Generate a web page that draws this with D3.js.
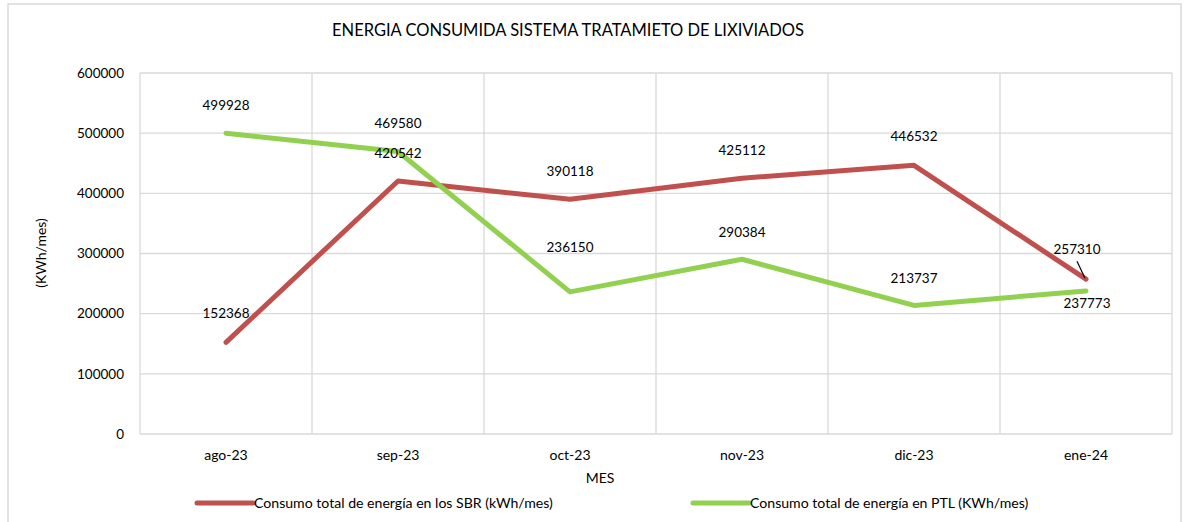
<!DOCTYPE html>
<html lang="es">
<head>
<meta charset="UTF-8">
<title>Energía consumida sistema tratamiento de lixiviados</title>
<script src="https://d3js.org/d3.v7.min.js"></script>
<style>
  body { margin: 0; background: #fff; }
  svg { font-family: Lato, "Open Sans", sans-serif; }
  text { fill: #000; }
  .grid line { stroke: #d9d9d9; stroke-width: 1.3px; }
  .tick-lbl { font-size: 13.5px; }
  .cat-lbl { font-size: 14px; }
  .leg-lbl { font-size: 14.1px; }
  .val-lbl { font-size: 13.5px; text-anchor: middle; }
</style>
</head>
<body>
<svg width="1187" height="522"></svg>
<script>
// data
const months = ["ago-23", "sep-23", "oct-23", "nov-23", "dic-23", "ene-24"];
const sbr = [152368, 420542, 390118, 425112, 446532, 257310];
const ptl = [499928, 469580, 236150, 290384, 213737, 237773];
const yTicks = [0, 100000, 200000, 300000, 400000, 500000, 600000];
const seriesNames = [
  "Consumo total de energía en los SBR (kWh/mes)",
  "Consumo total de energía en PTL (KWh/mes)"
];

const svg = d3.select("svg");
const plot = { left: 140, right: 1172, top: 73, bottom: 434 };

const x = d3.scaleBand().domain(months).range([plot.left, plot.right]);
const y = d3.scaleLinear().domain([0, 600000]).range([plot.bottom, plot.top]);

// outer chart frame
svg.append("rect")
  .attr("x", 8).attr("y", 4).attr("width", 1173).attr("height", 530)
  .attr("fill", "none").attr("stroke", "#d9d9d9").attr("stroke-width", 1.5);

// gridlines
const grid = svg.append("g").attr("class", "grid");
grid.selectAll(".h").data(yTicks).join("line")
  .attr("x1", plot.left).attr("x2", plot.right)
  .attr("y1", d => y(d)).attr("y2", d => y(d));
const bounds = months.map(m => x(m)).concat([plot.right]);
grid.selectAll(".v").data(bounds).join("line")
  .attr("x1", d => d).attr("x2", d => d)
  .attr("y1", plot.top).attr("y2", plot.bottom);

// y tick labels
svg.selectAll(".ylbl").data(yTicks).join("text")
  .attr("class", "tick-lbl")
  .attr("x", 124).attr("y", d => y(d)).attr("dy", "0.35em")
  .attr("text-anchor", "end").text(d => d);

// x tick labels
svg.selectAll(".xlbl").data(months).join("text")
  .attr("class", "cat-lbl")
  .attr("x", d => x(d) + x.bandwidth() / 2).attr("y", 455).attr("dy", "0.35em")
  .attr("text-anchor", "middle").text(d => d);

// axis titles
svg.append("text").attr("class", "cat-lbl")
  .attr("transform", "translate(41,253) rotate(-90)")
  .attr("text-anchor", "middle").attr("dy", "0.35em").text("(KWh/mes)");
svg.append("text").attr("class", "cat-lbl")
  .attr("x", 600).attr("y", 478).attr("dy", "0.35em")
  .attr("text-anchor", "middle").text("MES");

// chart title
svg.append("text")
  .attr("x", 568).attr("y", 30).attr("dy", "0.35em")
  .attr("text-anchor", "middle").style("font-size", "16.5px")
  .text("ENERGIA CONSUMIDA SISTEMA TRATAMIETO DE LIXIVIADOS");

// lines
const colors = ["#c0504d", "#92d050"];
const line = d3.line()
  .x((d, i) => x(months[i]) + x.bandwidth() / 2)
  .y(d => y(d));

[sbr, ptl].forEach((s, k) => {
  svg.append("path").datum(s)
    .attr("d", line)
    .attr("fill", "none")
    .attr("stroke", colors[k])
    .attr("stroke-width", 5)
    .attr("stroke-linecap", "round")
    .attr("stroke-linejoin", "round");
});

// value labels (dx, dy offsets from the point)
const labelOffsets = [
  [[0, -29], [0, -28], [0, -28], [0, -28], [0, -29], [-9, -30]],
  [[0, -28], [0, -28], [0, -45], [0, -27], [0, -27], [1, 12]]
];
[sbr, ptl].forEach((s, k) => {
  svg.selectAll(".v" + k).data(s).join("text")
    .attr("class", "val-lbl")
    .attr("x", (d, i) => x(months[i]) + x.bandwidth() / 2 + labelOffsets[k][i][0])
    .attr("y", (d, i) => y(d) + labelOffsets[k][i][1])
    .attr("dy", "0.35em")
    .text(d => d);
});

// leader line for the last SBR label
const lastX = x(months[5]) + x.bandwidth() / 2;
svg.append("line")
  .attr("x1", lastX - 9).attr("y1", y(sbr[5]) - 18)
  .attr("x2", lastX - 1).attr("y2", y(sbr[5]) - 1)
  .attr("stroke", "#000").attr("stroke-width", 1.2);

// legend
const legendX = [197, 693];
seriesNames.forEach((name, k) => {
  svg.append("line")
    .attr("x1", legendX[k]).attr("x2", legendX[k] + 56)
    .attr("y1", 503).attr("y2", 503)
    .attr("stroke", colors[k]).attr("stroke-width", 5)
    .attr("stroke-linecap", "round");
  svg.append("text").attr("class", "leg-lbl")
    .attr("x", legendX[k] + 57).attr("y", 503).attr("dy", "0.35em")
    .text(name);
});
</script>
</body>
</html>
